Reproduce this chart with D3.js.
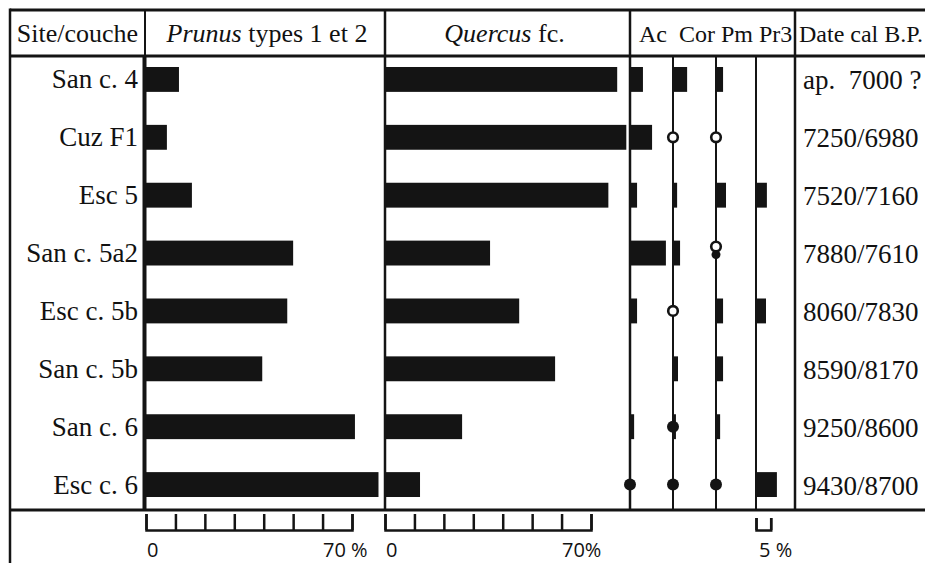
<!DOCTYPE html>
<html>
<head>
<meta charset="utf-8">
<script src="https://cdn.jsdelivr.net/npm/d3@7"></script>
<style>
  html, body { margin: 0; padding: 0; background: #fff; }
  svg { display: block; }
  .serif { font-family: "Liberation Serif", "Times New Roman", serif; fill: #111; }
  .sans { font-family: "Open Sans", "Noto Sans", sans-serif; fill: #111; }
</style>
</head>
<body>
<svg id="chart" width="925" height="563"></svg>
<script>
// Sites / layers, oldest at the bottom
const sites = ["San c. 4", "Cuz F1", "Esc 5", "San c. 5a2", "Esc c. 5b", "San c. 5b", "San c. 6", "Esc c. 6"];
const dates = ["ap.  7000 ?", "7250/6980", "7520/7160", "7880/7610", "8060/7830", "8590/8170", "9250/8600", "9430/8700"];

// Percentages of charcoal fragments
const prunus  = [11.2, 7.1, 15.6, 50, 48, 39.5, 71, 79];
const quercus = [78.9, 82, 75.9, 35.7, 45.6, 57.8, 26.2, 11.9];

// Minor taxa (null = no bar)
const ac  = [4.4, 7.5, 2.4, 12.2, 2.4, null, 1.4, null];
const cor = [4.8, null, 1.4, 2.4, null, 1.7, 1.0, null];
const pm  = [2.4, null, 3.4, null, 2.4, 2.4, 1.4, null];
const pr3 = [null, null, 3.7, null, 3.4, null, null, 7.1];

// Presence markers: "o" open circle, "f" filled circle, "of" both
const acMark  = ["", "", "", "", "", "", "", "f"];
const corMark = ["", "o", "", "", "o", "", "f", "f"];
const pmMark  = ["", "o", "", "of", "", "", "", "f"];

const minorHeader = "Ac  Cor Pm Pr3";
const mainTicks = [0, 10, 20, 30, 40, 50, 60, 70];

const svg = d3.select("#chart");
const ink = "#141414";

// Layout
const frameLeft = 10, frameTop = 10, headBottom = 56, frameBottom = 510;
const colSite = 145, colQ = 385, colMinor = 630, colDate = 795;

const y = d3.scaleBand().domain(sites).range([50.5, 513.5]).paddingInner(0.57).paddingOuter(0.285);
const xP = d3.scaleLinear().domain([0, 70]).range([146, 352]);
const xQ = d3.scaleLinear().domain([0, 70]).range([385, 591]);
const pxPerPct = (xP(70) - xP(0)) / 70;
const minorBase = [630, 673, 716, 756];
const xMinor = minorBase.map(b => d3.scaleLinear().domain([0, 5]).range([b, b + 5 * pxPerPct]));

// Bars
function bars(values, x, cls) {
  svg.append("g").selectAll("rect")
    .data(values.map((v, i) => ({ v, s: sites[i] })).filter(d => d.v != null))
    .join("rect")
    .attr("class", cls)
    .attr("x", x(0))
    .attr("y", d => y(d.s))
    .attr("width", d => x(d.v) - x(0))
    .attr("height", y.bandwidth())
    .attr("fill", ink);
}
bars(prunus, xP, "prunus");
bars(quercus, xQ, "quercus");
[ac, cor, pm, pr3].forEach((vals, k) => bars(vals, xMinor[k], "minor"));

// Frame and column rules
const rules = svg.append("g").attr("stroke", ink).attr("fill", "none");
function rule(x1, y1, x2, y2, w) {
  rules.append("line").attr("x1", x1).attr("y1", y1).attr("x2", x2).attr("y2", y2).attr("stroke-width", w);
}
rule(frameLeft, frameTop, 925, frameTop, 3);
rule(frameLeft, headBottom, 925, headBottom, 3);
rule(frameLeft, frameBottom, 925, frameBottom, 3);
rule(frameLeft, frameTop - 1.5, frameLeft, 563, 2.5);
rule(colSite, frameTop, colSite, headBottom, 2);
rule(colSite - 0.5, headBottom, colSite - 0.5, frameBottom, 4);
rule(colQ, frameTop, colQ, frameBottom, 2.5);
rule(colMinor, frameTop, colMinor, frameBottom, 2.5);
rule(colDate, frameTop, colDate, frameBottom, 2.5);
xMinor.slice(1).forEach(s => rule(s(0), headBottom, s(0), frameBottom, 2));

// Presence markers
function marks(list, k) {
  const g = svg.append("g");
  list.forEach((m, i) => {
    if (!m) return;
    const cx = xMinor[k](0), cy = y(sites[i]) + y.bandwidth() / 2;
    if (m.includes("f")) {
      g.append("circle").attr("cx", cx).attr("cy", m === "of" ? cy + 1.5 : cy)
        .attr("r", m === "of" ? 4.5 : 6).attr("fill", ink);
    }
    if (m.includes("o")) {
      g.append("circle").attr("cx", cx).attr("cy", m === "of" ? cy - 6.5 : cy)
        .attr("r", 4.8).attr("fill", "#fff").attr("stroke", ink).attr("stroke-width", 2.6);
    }
  });
}
marks(acMark, 0);
marks(corMark, 1);
marks(pmMark, 2);

// Header
const head = svg.append("g").attr("class", "serif");
head.append("text").attr("x", (frameLeft + colSite) / 2).attr("y", 42).attr("text-anchor", "middle")
  .attr("font-size", 26).text("Site/couche");
const tp = head.append("text").attr("x", (colSite + colQ) / 2 + 2).attr("y", 42).attr("text-anchor", "middle")
  .attr("font-size", 26);
tp.append("tspan").attr("font-style", "italic").text("Prunus");
tp.append("tspan").text(" types 1 et 2");
const tq = head.append("text").attr("x", (colQ + colMinor) / 2 - 3).attr("y", 42).attr("text-anchor", "middle")
  .attr("font-size", 26);
tq.append("tspan").attr("font-style", "italic").text("Quercus");
tq.append("tspan").text(" fc.");
head.append("text").attr("x", 639).attr("y", 42).attr("font-size", 24)
  .attr("xml:space", "preserve").style("white-space", "pre").text(minorHeader);
head.append("text").attr("x", 799).attr("y", 42).attr("font-size", 24).text("Date cal B.P.");

// Site labels and dates
const rows = svg.append("g").attr("class", "serif").attr("font-size", 27);
rows.selectAll("text.site").data(sites).join("text")
  .attr("class", "serif site")
  .attr("x", 138).attr("y", d => y(d) + y.bandwidth() / 2 + 9)
  .attr("text-anchor", "end").text(d => d);
rows.selectAll("text.date").data(dates).join("text")
  .attr("class", "serif date")
  .attr("x", 803).attr("y", (d, i) => y(sites[i]) + y.bandwidth() / 2 + 10)
  .attr("xml:space", "preserve").style("white-space", "pre").text(d => d);

// Scale brackets
function bracket(scale, ticks, size) {
  const g = svg.append("g").attr("transform", "translate(0,530)")
    .call(d3.axisTop(scale).tickValues(ticks).tickSize(size).tickSizeOuter(size).tickFormat(""));
  g.selectAll("path, line").attr("stroke", ink).attr("stroke-width", 2.5);
}
bracket(xP, mainTicks, 16);
bracket(xQ, mainTicks, 16);
bracket(xMinor[3], [0, 5], 12);

const lab = svg.append("g").attr("class", "sans").attr("font-size", 20);
lab.append("text").attr("x", xP(0) + 1).attr("y", 557).text("0");
lab.append("text").attr("x", xP(70) - 29).attr("y", 557).attr("xml:space", "preserve").style("white-space", "pre").text("70 %");
lab.append("text").attr("x", xQ(0) + 1).attr("y", 557).text("0");
lab.append("text").attr("x", xQ(70) - 29).attr("y", 557).text("70%");
lab.append("text").attr("x", xMinor[3](0) + 3).attr("y", 557).attr("xml:space", "preserve").style("white-space", "pre").text("5 %");
</script>
</body>
</html>
